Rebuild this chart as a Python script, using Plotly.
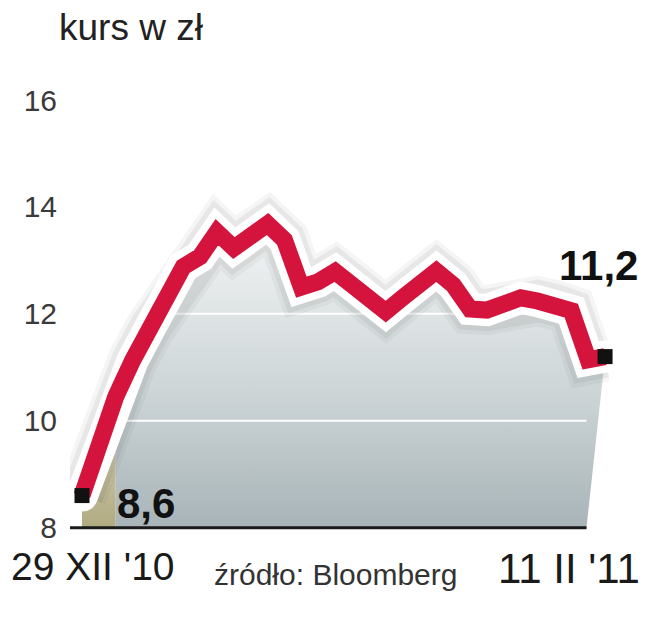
import plotly.graph_objects as go

# ---- data ----
end_labels = ["29 XII '10", "11 II '11"]
prices = [8.6, 9.6, 10.45, 11.13, 11.72, 12.30, 12.88, 13.07, 13.53, 13.23,
          13.46, 13.68, 13.38, 12.50, 12.60, 12.79, 12.54, 12.26, 12.04, 12.30,
          12.60, 12.80, 12.54, 12.09, 12.07, 12.17, 12.30, 12.24, 12.17, 12.06,
          11.14, 11.2]
y_ticks = [8, 10, 12, 14, 16]
grid_levels = [10, 12]
unit_label = "kurs w zł"
source_label = "źródło: Bloomberg"

# ---- styling constants ----
RED = "#d4143c"
gray_start = 2        # index where the grey area begins
base_end = 29.9       # where the base line / grey area end
x_lo = -0.711
x_hi = 33.07
y_lo, y_hi = 7.9, 16.0

n = len(prices)
xs = list(range(n))


def fmt(v):
    return f"{v:.1f}".replace(".", ",")


fig = go.Figure()

# khaki area at the start
fig.add_trace(go.Scatter(
    x=xs[:gray_start + 1] + [gray_start, 0],
    y=prices[:gray_start + 1] + [8, 8],
    mode="lines", line=dict(width=0), fill="toself",
    fillgradient=dict(type="vertical",
                      colorscale=[[0, "#b0aa80"], [0.6, "#cdc9ac"], [1, "#ecebe2"]]),
    hoverinfo="skip", showlegend=False))

# grey gradient area
fig.add_trace(go.Scatter(
    x=xs[gray_start:] + [base_end, gray_start],
    y=prices[gray_start:] + [8, 8],
    mode="lines", line=dict(width=0), fill="toself",
    fillgradient=dict(type="vertical",
                      colorscale=[[0, "#a8b4b8"], [0.45, "#cdd5d7"], [1, "#f3f5f5"]]),
    hoverinfo="skip", showlegend=False))

# white grid lines over the area
for g in grid_levels:
    fig.add_trace(go.Scatter(x=[gray_start, base_end], y=[g, g], mode="lines",
                             line=dict(color="white", width=2),
                             hoverinfo="skip", showlegend=False))

# base line
fig.add_trace(go.Scatter(x=[x_lo, base_end], y=[8, 8], mode="lines",
                         line=dict(color="#1a1a1a", width=3),
                         hoverinfo="skip", showlegend=False))

# soft shadow around the line
for w, a in [(50, 0.05), (42, 0.07)]:
    fig.add_trace(go.Scatter(x=xs, y=prices, mode="lines",
                             line=dict(color=f"rgba(60,60,60,{a})", width=w),
                             hoverinfo="skip", showlegend=False))

# white outline
fig.add_trace(go.Scatter(x=xs, y=prices, mode="lines",
                         line=dict(color="white", width=32),
                         hoverinfo="skip", showlegend=False))
fig.add_trace(go.Scatter(x=[xs[0], xs[-1]], y=[prices[0], prices[-1]], mode="markers",
                         marker=dict(color="white", size=32, symbol="circle"),
                         hoverinfo="skip", showlegend=False, cliponaxis=False))

# red line
fig.add_trace(go.Scatter(x=xs, y=prices, mode="lines",
                         line=dict(color=RED, width=17),
                         hoverinfo="skip", showlegend=False))

# end markers
fig.add_trace(go.Scatter(x=[xs[0], xs[-1]], y=[prices[0], prices[-1]], mode="markers",
                         marker=dict(color="#111111", size=15, symbol="square"),
                         hoverinfo="skip", showlegend=False, cliponaxis=False))

# page body has an 8px margin: work in screen pixels and shift
OFF = 8
W, H = 657 - 2 * OFF, 640 - 2 * OFF
PL, PR, PT, PB = 70, 640, 100, 533   # plot area in screen pixels
L, T = PL - OFF, PT - OFF
R = W - (PR - OFF)
B = H - (PB - OFF)


def px_x(p):
    return (p - PL) / (PR - PL)


def px_y(p):
    return (PB - p) / (PB - PT)


ann = [
    dict(text=unit_label, x=px_x(57), y=px_y(27), xanchor="left", yanchor="middle",
         font=dict(size=37, color="#222222", family="Liberation Sans")),
    dict(text=end_labels[0], x=px_x(9), y=px_y(566), xanchor="left", yanchor="middle",
         font=dict(size=39, color="#1a1a1a", family="Liberation Sans")),
    dict(text=end_labels[1], x=px_x(569), y=px_y(568), xanchor="center", yanchor="middle",
         font=dict(size=42, color="#1a1a1a", family="Liberation Sans")),
    dict(text=source_label, x=px_x(212), y=px_y(574), xanchor="left", yanchor="middle",
         font=dict(size=30, color="#333333", family="Liberation Sans")),
    dict(text="<b>" + fmt(prices[0]) + "</b>", x=px_x(115), y=px_y(503), xanchor="left",
         yanchor="middle", font=dict(size=42, color="#111111", family="Liberation Sans")),
    dict(text="<b>" + fmt(prices[-1]) + "</b>", x=px_x(557), y=px_y(265), xanchor="left",
         yanchor="middle", font=dict(size=42, color="#111111", family="Liberation Sans")),
]
for a in ann:
    a.update(xref="paper", yref="paper", showarrow=False)

fig.update_layout(
    width=W, height=H,
    margin=dict(l=L, r=R, t=T, b=B, pad=0),
    paper_bgcolor="white", plot_bgcolor="white",
    showlegend=False,
    annotations=ann,
    xaxis=dict(visible=False, range=[x_lo, x_hi], fixedrange=True),
    yaxis=dict(range=[y_lo, y_hi], tickvals=y_ticks, ticktext=[str(t) for t in y_ticks],
               showgrid=False, zeroline=False, showline=False, ticks="",
               tickfont=dict(size=30, color="#3a3a3a", family="Liberation Sans"),
               ticklabelstandoff=12, fixedrange=True),
)

fig.write_html("out.html")
